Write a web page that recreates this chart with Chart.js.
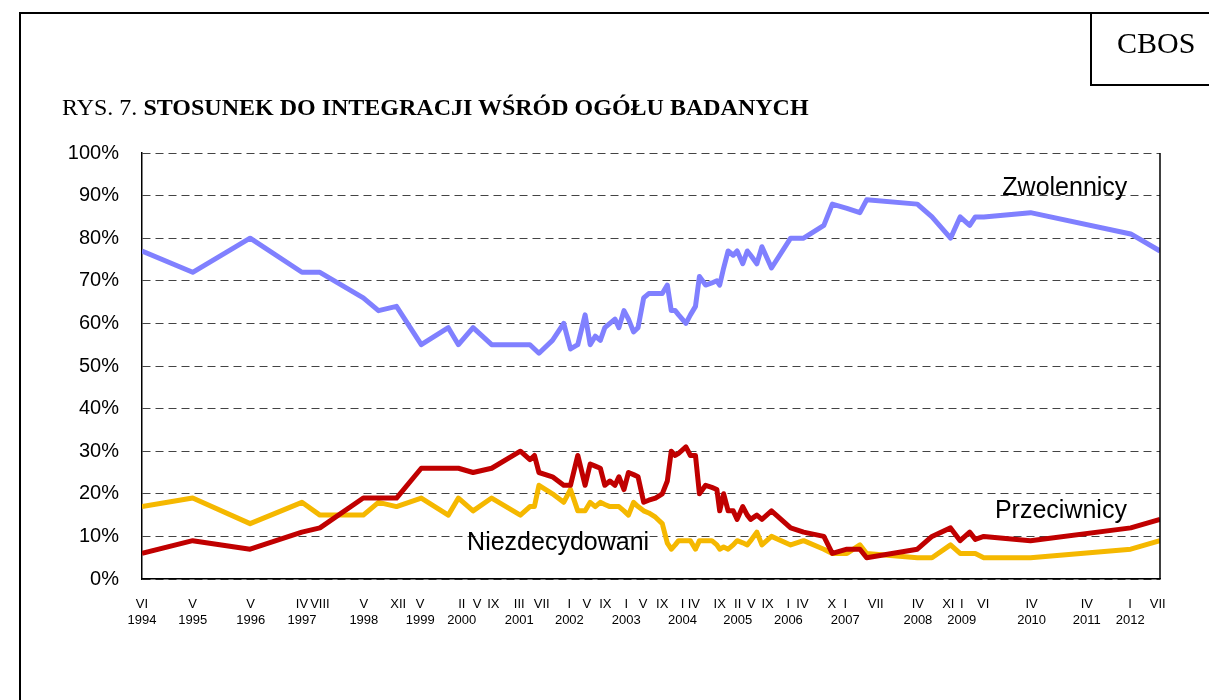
<!DOCTYPE html>
<html>
<head>
<meta charset="utf-8">
<script src="https://cdn.jsdelivr.net/npm/chart.js@4.4.1/dist/chart.umd.min.js"></script>
<style>
  body { margin: 0; background: #fff; }
  #wrap { position: relative; width: 1209px; height: 700px; overflow: hidden; }
  #chart { position: absolute; left: 0; top: 0; }
  .frameTop { position: absolute; left: 19px; top: 12px; width: 1190px; height: 2px; background: #000; }
  .frameLeft { position: absolute; left: 19px; top: 12px; width: 2px; height: 688px; background: #000; }
  .cbos { position: absolute; left: 1090px; top: 12px; width: 119px; height: 74px;
          border-left: 2px solid #000; border-bottom: 2px solid #000; box-sizing: border-box; }
  .cbos span { position: absolute; left: 25px; top: 16px; font: 30px/30px "Liberation Serif", "Times New Roman", serif; }
  .title { position: absolute; left: 62px; top: 95px; font: 24px/24px "Liberation Serif", "Times New Roman", serif; white-space: nowrap; }
  .title b { font-weight: bold; }
</style>
</head>
<body>
<div id="wrap">
  <canvas id="chart" width="1209" height="700"></canvas>
  <div class="frameTop"></div>
  <div class="frameLeft"></div>
  <div class="cbos"><span>CBOS</span></div>
  <div class="title">RYS. 7. <b>STOSUNEK DO INTEGRACJI WŚRÓD OGÓŁU BADANYCH</b></div>
</div>
<script>
// survey dates (decimal years)
var surveyDates = [1994.42, 1995.32, 1996.34, 1997.26, 1997.58, 1998.35, 1998.62, 1998.94, 1999.38, 1999.86,
  2000.04, 2000.30, 2000.63, 2001.14, 2001.31, 2001.39, 2001.47, 2001.71, 2001.91, 2002.03,
  2002.16, 2002.29, 2002.38, 2002.47, 2002.56, 2002.64, 2002.73, 2002.82, 2002.89, 2002.98,
  2003.06, 2003.15, 2003.23, 2003.33, 2003.42, 2003.54, 2003.66, 2003.75, 2003.82, 2003.89,
  2003.95, 2004.08, 2004.16, 2004.25, 2004.32, 2004.43, 2004.54, 2004.63, 2004.68, 2004.75,
  2004.83, 2004.92, 2004.99, 2005.09, 2005.17, 2005.23, 2005.34, 2005.43, 2005.60, 2005.94,
  2006.17, 2006.53, 2006.68, 2006.94, 2007.17, 2007.29, 2008.19, 2008.45, 2008.78, 2008.95,
  2009.12, 2009.22, 2009.37, 2010.20, 2011.98, 2012.50];

var zwolennicy = [77, 72, 80, 72, 72, 66, 63, 64, 55, 59,
  55, 59, 55, 55, 55, 54, 53, 56, 60, 54,
  55, 62, 55, 57, 56, 59, 60, 61, 59, 63,
  61, 58, 59, 66, 67, 67, 67, 69, 63, 63,
  62, 60, 62, 64, 71, 69, 69.5, 70, 69, 73,
  77, 76, 77, 74, 77, 76, 74, 78, 73, 80,
  80, 83, 88, 87, 86, 89, 88, 85, 80, 85,
  83, 85, 85, 86, 81, 77];

var przeciwnicy = [6, 9, 7, 11, 12, 19, 19, 19, 26, 26,
  26, 25, 26, 30, 28, 29, 25, 24, 22, 22,
  29, 22, 27, 26.5, 26, 22, 23, 22, 24, 21,
  25, 24.5, 24, 18, 18.5, 19, 20, 23, 30, 29,
  29.5, 31, 29, 29, 20, 22, 21.5, 21, 16, 20,
  16, 16, 14, 17, 15, 14, 15, 14, 16, 12,
  11, 10, 6, 7, 7, 5, 7, 10, 12, 9,
  11, 9.3, 10, 9, 12, 14];

var niezdecydowani = [17, 19, 13, 18, 15, 15, 18, 17, 19, 15,
  19, 16, 19, 15, 17, 17, 22, 20, 18, 21,
  16, 16, 18, 17, 18, 17.5, 17, 17, 17, 16,
  15, 18, 17, 16, 15.5, 14.5, 13, 8.4, 7, 8,
  9, 9, 9, 7, 9, 9, 9, 8, 7, 7.5,
  7, 8, 9, 8.5, 8, 9, 11, 8, 10, 8,
  9, 7, 6, 6, 8, 6, 5, 5, 8, 6,
  6, 6, 5, 5, 7, 9];

// x axis tick labels, placed where they sit in the picture
var tickDates = [1994.42, 1995.32, 1996.35, 1997.26, 1997.58, 1998.36, 1998.97, 1999.36, 2000.10, 2000.37,
  2000.66, 2001.12, 2001.52, 2002.01, 2002.32, 2002.65, 2003.02, 2003.32, 2003.66, 2004.02,
  2004.22, 2004.68, 2005.0, 2005.24, 2005.53, 2005.9, 2006.15, 2006.67, 2006.91, 2007.45,
  2008.2, 2008.74, 2008.98, 2009.36, 2010.22, 2011.2, 2011.97, 2012.46];
var tickMonths = ['VI', 'V', 'V', 'IV', 'VIII', 'V', 'XII', 'V', 'II', 'V',
  'IX', 'III', 'VII', 'I', 'V', 'IX', 'I', 'V', 'IX', 'I',
  'IV', 'IX', 'II', 'V', 'IX', 'I', 'IV', 'X', 'I', 'VII',
  'IV', 'XI', 'I', 'VI', 'IV', 'IV', 'I', 'VII'];
var tickYears = ['1994', '1995', '1996', '1997', '', '1998', '', '1999', '2000', '',
  '', '2001', '', '2002', '', '', '2003', '', '', '2004',
  '', '', '2005', '', '', '2006', '', '', '2007', '',
  '2008', '', '2009', '', '2010', '2011', '2012', ''];

var yTicks = [0, 10, 20, 30, 40, 50, 60, 70, 80, 90, 100];

var seriesNames = ['Zwolennicy', 'Przeciwnicy', 'Niezdecydowani'];

function points(vals) {
  return vals.map(function(v, i) { return { x: surveyDates[i], y: v }; });
}

var font = 'Arial, "Liberation Sans", sans-serif';

// series names written next to the lines, plus right border of the plot
var seriesText = {
  id: 'seriesText',
  afterDraw: function(chart) {
    var ctx = chart.ctx, xs = chart.scales.x, ys = chart.scales.y, a = chart.chartArea;
    ctx.save();
    ctx.strokeStyle = '#000';
    ctx.lineWidth = 1.5;
    ctx.beginPath();
    ctx.moveTo(a.right, a.top);
    ctx.lineTo(a.right, a.bottom);
    ctx.stroke();
    ctx.fillStyle = '#000';
    ctx.font = '25px ' + font;
    ctx.textAlign = 'center';
    ctx.textBaseline = 'alphabetic';
    var spots = [[2010.81, 90.2], [2010.74, 14.4], [2001.81, 6.8]];
    seriesNames.forEach(function(n, i) {
      ctx.fillText(n, xs.getPixelForValue(spots[i][0]), ys.getPixelForValue(spots[i][1]));
    });
    ctx.restore();
  }
};

new Chart(document.getElementById('chart'), {
  type: 'line',
  data: {
    datasets: [
      { label: seriesNames[0], data: points(zwolennicy), borderColor: '#8080FF' },
      { label: seriesNames[1], data: points(przeciwnicy), borderColor: '#C00000' },
      { label: seriesNames[2], data: points(niezdecydowani), borderColor: '#F5B800' }
    ]
  },
  options: {
    responsive: false,
    animation: false,
    parsing: false,
    layout: { padding: { top: 153, right: 49, left: 0, bottom: 0 } },
    elements: {
      line: { borderWidth: 5, tension: 0, borderJoinStyle: 'round', fill: false },
      point: { radius: 0 }
    },
    plugins: { legend: { display: false }, tooltip: { enabled: false } },
    scales: {
      x: {
        type: 'linear',
        min: 1994.42,
        max: 2012.5,
        afterFit: function(s) { s.height = 121; },
        afterBuildTicks: function(s) {
          s.ticks = tickDates.map(function(v) { return { value: v }; });
        },
        grid: { display: false, drawTicks: false },
        border: { display: true, color: '#000', width: 1.5 },
        ticks: {
          autoSkip: false,
          maxRotation: 0,
          padding: 18,
          color: '#000',
          font: { family: font, size: 13 },
          callback: function(v, i) {
            return tickYears[i] ? [tickMonths[i], tickYears[i]] : tickMonths[i];
          }
        }
      },
      y: {
        min: 0,
        max: 100,
        afterFit: function(s) { s.width = 142; },
        afterBuildTicks: function(s) {
          s.ticks = yTicks.map(function(v) { return { value: v }; });
        },
        grid: { color: '#444', lineWidth: 1, drawTicks: false },
        border: { display: true, color: '#000', width: 1.5, dash: [8, 5] },
        ticks: {
          padding: 23,
          color: '#000',
          font: { family: font, size: 20 },
          callback: function(v) { return v + '%'; }
        }
      }
    }
  },
  plugins: [seriesText]
});
</script>
</body>
</html>
